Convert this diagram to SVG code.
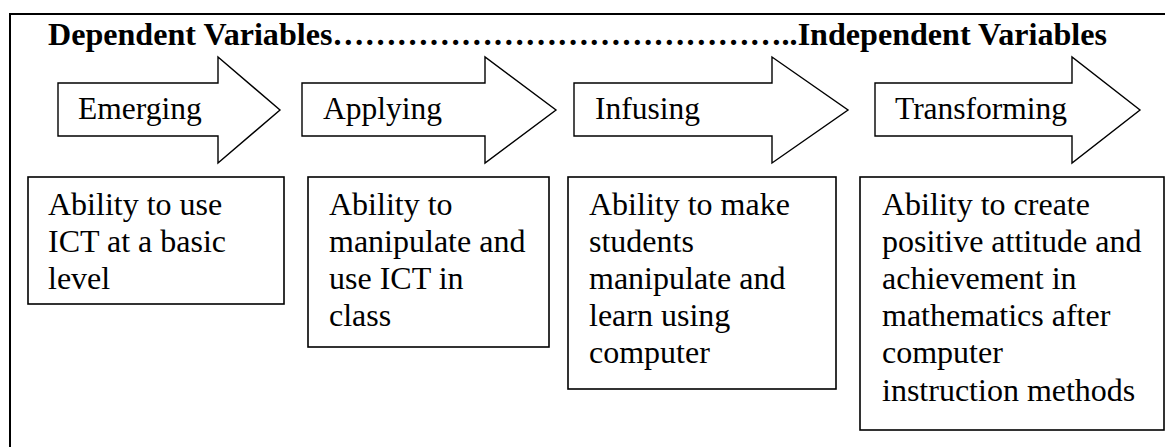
<svg xmlns="http://www.w3.org/2000/svg" width="1165" height="447" viewBox="0 0 1165 447">
  <style>
    .frame { fill: none; stroke: #000; stroke-width: 2; }
    .arrow { fill: #fff; stroke: #000; stroke-width: 1.4; stroke-linejoin: miter; }
    .box { fill: #fff; stroke: #000; stroke-width: 1.6; }
    text { font-family: 'Liberation Serif', serif; fill: #000; }
    .title { font-size: 31.5px; font-weight: bold; }
    .lbl { font-size: 31.5px; }
    .txt { font-size: 32px; }
  </style>
  <rect width="1165" height="447" fill="#fff"/>
  <rect class="frame" x="10" y="14" width="1170" height="450"/>
  <text class="title" x="48" y="45" textLength="1059" lengthAdjust="spacingAndGlyphs">Dependent Variables&#8230;&#8230;&#8230;&#8230;&#8230;&#8230;&#8230;&#8230;&#8230;&#8230;&#8230;&#8230;&#8230;&#8230;..Independent Variables</text>

  <g id="emerging">
    <polygon class="arrow" points="58,83 218,83 218,57 280,110 218,163 218,136 58,136"/>
    <text class="lbl" x="78" y="119">Emerging</text>
  </g>
  <g id="applying">
    <polygon class="arrow" points="302,83 485,83 485,57 556,110 485,163 485,136 302,136"/>
    <text class="lbl" x="323" y="119">Applying</text>
  </g>
  <g id="infusing">
    <polygon class="arrow" points="574,83 772,83 772,57 848,110 772,163 772,136 574,136"/>
    <text class="lbl" x="595" y="119">Infusing</text>
  </g>
  <g id="transforming">
    <polygon class="arrow" points="875,83 1072,83 1072,57 1140,110 1072,163 1072,136 875,136"/>
    <text class="lbl" x="895" y="119">Transforming</text>
  </g>

  <g id="box-emerging">
    <rect class="box" x="28" y="177" width="256" height="127"/>
    <text class="txt" x="48" y="215">Ability to use</text>
    <text class="txt" x="48" y="252">ICT at a basic</text>
    <text class="txt" x="48" y="289">level</text>
  </g>
  <g id="box-applying">
    <rect class="box" x="308" y="177" width="241" height="170"/>
    <text class="txt" x="329" y="215">Ability to</text>
    <text class="txt" x="329" y="252">manipulate and</text>
    <text class="txt" x="329" y="289">use ICT in</text>
    <text class="txt" x="329" y="326">class</text>
  </g>
  <g id="box-infusing">
    <rect class="box" x="568" y="177" width="268" height="212"/>
    <text class="txt" x="589" y="215">Ability to make</text>
    <text class="txt" x="589" y="252">students</text>
    <text class="txt" x="589" y="289">manipulate and</text>
    <text class="txt" x="589" y="326">learn using</text>
    <text class="txt" x="589" y="363">computer</text>
  </g>
  <g id="box-transforming">
    <rect class="box" x="860" y="177" width="304" height="253"/>
    <text class="txt" x="882" y="215">Ability to create</text>
    <text class="txt" x="882" y="252">positive attitude and</text>
    <text class="txt" x="882" y="289">achievement in</text>
    <text class="txt" x="882" y="326">mathematics after</text>
    <text class="txt" x="882" y="363">computer</text>
    <text class="txt" x="882" y="401">instruction methods</text>
  </g>
  <g id="connectors"></g>
</svg>
